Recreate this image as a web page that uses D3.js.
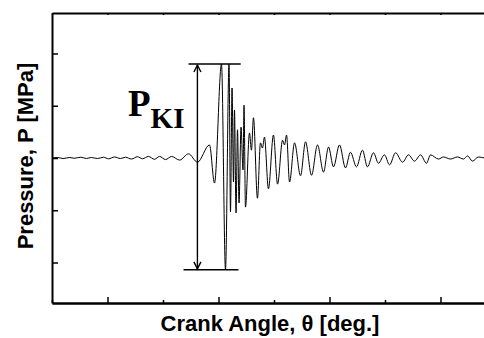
<!DOCTYPE html>
<html>
<head>
<meta charset="utf-8">
<script src="https://cdn.jsdelivr.net/npm/d3@7"></script>
<style>
  body { margin: 0; background: #fff; }
  .axis path, .axis line { stroke: #000; }
  .axis text { display: none; }
</style>
</head>
<body>
<div id="plot"></div>
<script>
// Define SVG area dimensions
var svgWidth = 484;
var svgHeight = 338;

// Plot box (right side runs past the window, like the reference)
var margin = { top: 13, right: -12, bottom: 35, left: 52 };
var chartWidth = svgWidth - margin.left - margin.right;
var chartHeight = svgHeight - margin.top - margin.bottom;

// Crank angle [deg] and pressure [MPa] (extrema of the trace)
var crankAngle = [
  -5.0, -4.5, -4.0, -3.4, -3.0, -2.4, -1.9, -1.45, -0.9, -0.36,
  0.09, 0.63, 1.17, 1.62, 2.16, 2.7, 3.15, 3.69, 4.23, 4.68,
  5.23, 5.77, 6.5, 7.3, 8.1, 9.19, 9.64, 10.27, 10.63, 10.95,
  11.08, 11.22, 11.35, 11.44, 11.58, 11.71, 11.85, 12.03, 12.21, 12.3,
  12.43, 12.79, 12.97, 13.15, 13.51, 13.78, 13.96, 14.14, 14.5, 14.95,
  15.32, 15.77, 15.95, 16.13, 16.4, 16.85, 17.39, 17.84, 18.38, 18.92,
  19.46, 19.91, 20.36, 20.9, 21.44, 21.89, 22.43, 22.97, 23.42, 23.96,
  24.41, 24.95, 25.41, 25.95, 26.58, 27.12, 27.66, 28.2, 28.74, 29.1,
  29.82, 30.27, 30.9, 31.53, 32.07, 32.43, 32.88, 33.42, 33.96, 34.5
];
var pressure = [
  0, 0.01, -0.01, 0.01, -0.005, 0.015, -0.01, 0.01, -0.01, 0.015,
  -0.015, 0.02, -0.01, 0.015, -0.02, 0.025, -0.015, 0.03, -0.025, 0.03,
  -0.03, 0.03, -0.04, 0.08, -0.08, 0.25, -0.48, 1.8, -2.14, 1.8,
  -1.03, 1.34, -0.46, 0.92, -1.05, 0.54, -0.86, 0.59, -0.23, 1.01,
  -0.94, 0.48, 0.15, 0.77, -0.77, 0.29, 0.19, 0.4, -0.59, 0.44,
  -0.5, 0.34, 0.25, 0.44, -0.46, 0.29, -0.34, 0.31, -0.33, 0.25,
  -0.27, 0.21, -0.17, 0.25, -0.19, 0.11, -0.17, 0.15, -0.17, 0.1,
  -0.1, 0.06, -0.13, 0.1, -0.08, 0.06, -0.06, 0.06, -0.1, 0.06,
  -0.02, 0.02, -0.02, 0.02, -0.02, 0.04, -0.06, 0.02, 0, -0.01
];

// Axis ticks (no labels in the reference)
var majorAngles = [0, 10, 20, 30];
var minorAngles = [-5, 5, 15, 25, 35];
var pressureTicks = [-2, -1, 0, 1, 2];

// Knock amplitude annotation: arrow angle and extents of the two guide lines
var arrowAngle = 8.1;
var topGuide = [7.3, 12.0];
var bottomGuide = [6.85, 11.8];

var svg = d3.select("#plot")
  .append("svg")
  .attr("width", svgWidth)
  .attr("height", svgHeight);

var chartGroup = svg.append("g")
  .attr("transform", `translate(${margin.left}, ${margin.top})`);

var xScale = d3.scaleLinear()
  .domain([-5, 35])
  .range([0, chartWidth]);

var yScale = d3.scaleLinear()
  .domain([-2.775, 2.775])
  .range([chartHeight, 0]);

var traceData = crankAngle.map((a, i) => ({ angle: a, p: pressure[i] }));

// Pressure trace
var drawLine = d3.line()
  .x(d => xScale(d.angle))
  .y(d => yScale(d.p))
  .curve(d3.curveMonotoneX);

chartGroup.append("path")
  .attr("d", drawLine(traceData))
  .attr("fill", "none")
  .attr("stroke", "#000")
  .attr("stroke-width", 1);

// Axes: ticks point into the plot
function styleAxis(g) {
  g.select(".domain").attr("stroke-width", 2);
  g.selectAll(".tick line").attr("stroke-width", 1.5);
}

chartGroup.append("g")
  .classed("axis", true)
  .call(d3.axisRight(yScale).tickValues(pressureTicks).tickSize(6).tickSizeOuter(0).tickFormat(""))
  .call(styleAxis);

chartGroup.append("g")
  .classed("axis", true)
  .attr("transform", `translate(0, ${chartHeight})`)
  .call(d3.axisTop(xScale).tickValues(majorAngles).tickSize(6).tickSizeOuter(0).tickFormat(""))
  .call(styleAxis);

chartGroup.append("g")
  .classed("axis", true)
  .attr("transform", `translate(0, ${chartHeight})`)
  .call(d3.axisTop(xScale).tickValues(minorAngles).tickSize(3).tickSizeOuter(0).tickFormat(""))
  .call(styleAxis);

chartGroup.append("g")
  .classed("axis", true)
  .call(d3.axisBottom(xScale).tickValues(majorAngles.concat(minorAngles)).tickSize(2).tickSizeOuter(0).tickFormat(""))
  .call(styleAxis);

// Annotation for P_KI
var pMax = d3.max(pressure);
var pMin = d3.min(pressure);
var ann = chartGroup.append("g")
  .attr("stroke", "#000")
  .attr("stroke-width", 1.4)
  .attr("fill", "none");

ann.append("line")
  .attr("x1", xScale(topGuide[0])).attr("x2", xScale(topGuide[1]))
  .attr("y1", yScale(pMax)).attr("y2", yScale(pMax));

ann.append("line")
  .attr("x1", xScale(bottomGuide[0])).attr("x2", xScale(bottomGuide[1]))
  .attr("y1", yScale(pMin)).attr("y2", yScale(pMin));

var ax = xScale(arrowAngle);
var yTop = yScale(pMax);
var yBot = yScale(pMin);
ann.append("line")
  .attr("x1", ax).attr("x2", ax)
  .attr("y1", yTop + 1).attr("y2", yBot - 1);

ann.append("path")
  .attr("d", `M${ax - 3.5},${yTop + 8} L${ax},${yTop + 1} L${ax + 3.5},${yTop + 8}`);
ann.append("path")
  .attr("d", `M${ax - 3.5},${yBot - 8} L${ax},${yBot - 1} L${ax + 3.5},${yBot - 8}`);

// P_KI label
var pki = svg.append("text")
  .attr("x", 128)
  .attr("y", 116)
  .attr("font-family", "'Liberation Serif', 'Times New Roman', serif")
  .attr("font-weight", "bold")
  .attr("font-size", 37);
pki.append("tspan").text("P");
pki.append("tspan")
  .attr("font-size", 29)
  .attr("dy", 12)
  .text("KI");

// Axis titles
svg.append("text")
  .attr("x", 270)
  .attr("y", 331)
  .attr("text-anchor", "middle")
  .attr("font-family", "'Liberation Sans', Arial, sans-serif")
  .attr("font-weight", "bold")
  .attr("font-size", 22)
  .text("Crank Angle, θ [deg.]");

svg.append("text")
  .attr("transform", "translate(33, 156) rotate(-90)")
  .attr("text-anchor", "middle")
  .attr("font-family", "'Liberation Sans', Arial, sans-serif")
  .attr("font-weight", "bold")
  .attr("font-size", 22)
  .text("Pressure, P [MPa]");
</script>
</body>
</html>
